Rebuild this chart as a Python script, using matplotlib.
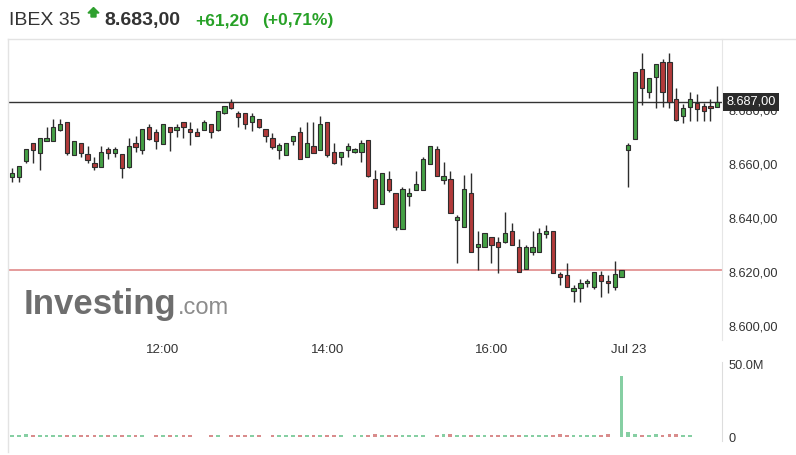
import matplotlib
matplotlib.use("Agg")
import matplotlib.pyplot as plt
from matplotlib.patches import Polygon
from matplotlib.lines import Line2D
import numpy as np

plt.rcParams['font.family'] = ['Liberation Sans', 'DejaVu Sans']

# ---------------- data ----------------
opens = [8655.4, 8655.4, 8661.3, 8667.8, 8664.3, 8668.6, 8668.6, 8672.7, 8675.8, 8663.4,
         8667.8, 8663.7, 8660.4, 8659.1, 8665.6, 8664.3, 8663.7, 8659.1, 8667.8, 8665.3,
         8673.7, 8671.9, 8667.6, 8673.7, 8672.7, 8675.8, 8673.1, 8671.9, 8672.7, 8674.8,
         8672.7, 8678.9, 8683.1, 8679.1, 8678.9, 8675.6, 8676.7, 8673.0, 8669.6, 8665.3,
         8663.4, 8668.6, 8671.9, 8662.6, 8666.8, 8665.3, 8675.8, 8664.4, 8662.6, 8665.3,
         8664.4, 8664.4, 8669.0, 8654.4, 8645.3, 8654.4, 8649.3, 8636.0, 8648.3, 8650.5,
         8650.5, 8660.1, 8665.6, 8654.2, 8654.4, 8639.4, 8636.9, 8649.4, 8629.3, 8629.3,
         8633.0, 8631.3, 8631.3, 8635.3, 8629.3, 8621.1, 8627.6, 8627.6, 8634.2, 8635.4,
         8619.4, 8619.0, 8613.2, 8614.1, 8615.9, 8614.7, 8619.0, 8616.9, 8614.7, 8618.1,
         8665.3, 8669.4, 8695.2, 8686.7, 8692.4, 8697.8, 8697.8, 8684.2, 8678.0, 8681.3,
         8682.6, 8681.7, 8681.7, 8681.3]
highs = [8658.5, 8659.5, 8665.6, 8667.8, 8669.6, 8673.7, 8676.7, 8676.7, 8675.8, 8668.7,
         8667.8, 8666.8, 8662.8, 8666.8, 8666.3, 8666.5, 8663.7, 8669.6, 8670.6, 8673.0,
         8674.9, 8673.1, 8674.8, 8673.7, 8674.9, 8675.8, 8675.8, 8673.4, 8676.4, 8674.8,
         8679.9, 8681.7, 8684.1, 8679.9, 8678.9, 8679.1, 8676.7, 8673.0, 8671.7, 8668.0,
         8667.8, 8670.5, 8673.7, 8675.8, 8675.8, 8678.0, 8675.8, 8668.0, 8664.4, 8668.0,
         8666.0, 8669.0, 8669.0, 8657.9, 8656.7, 8657.6, 8649.3, 8651.7, 8651.2, 8657.6,
         8662.8, 8666.8, 8666.8, 8660.9, 8657.6, 8641.4, 8655.9, 8656.8, 8635.4, 8634.4,
         8633.0, 8633.2, 8642.4, 8638.4, 8632.2, 8630.1, 8635.4, 8636.3, 8637.5, 8635.4,
         8620.2, 8623.6, 8615.3, 8617.4, 8617.4, 8620.0, 8620.6, 8619.0, 8624.3, 8620.9,
         8667.8, 8694.2, 8701.4, 8692.1, 8697.0, 8699.0, 8701.4, 8688.1, 8682.2, 8686.9,
         8685.9, 8682.6, 8684.2, 8689.1]
lows = [8653.6, 8653.6, 8660.6, 8660.6, 8657.9, 8668.6, 8668.6, 8672.4, 8663.4, 8663.4,
        8662.8, 8660.6, 8657.9, 8659.1, 8662.0, 8662.8, 8654.8, 8658.7, 8664.7, 8663.8,
        8669.0, 8665.7, 8667.6, 8664.9, 8670.0, 8669.9, 8667.1, 8670.4, 8672.7, 8669.9,
        8672.4, 8678.6, 8680.4, 8673.9, 8673.0, 8672.3, 8673.3, 8668.1, 8665.7, 8662.0,
        8663.4, 8667.1, 8661.9, 8662.6, 8664.1, 8665.3, 8662.6, 8660.1, 8659.7, 8662.8,
        8664.1, 8660.7, 8655.4, 8643.9, 8645.3, 8649.6, 8635.7, 8636.0, 8644.4, 8650.5,
        8650.5, 8660.1, 8655.7, 8652.7, 8641.9, 8623.6, 8636.9, 8627.6, 8620.7, 8629.3,
        8623.6, 8619.6, 8630.7, 8630.1, 8620.2, 8621.1, 8626.4, 8627.6, 8632.6, 8619.9,
        8615.3, 8614.7, 8609.1, 8609.1, 8614.7, 8613.7, 8611.0, 8612.2, 8613.4, 8618.1,
        8651.7, 8669.4, 8682.0, 8684.4, 8681.0, 8681.3, 8681.0, 8676.0, 8675.2, 8676.0,
        8676.0, 8676.0, 8676.0, 8681.3]
closes = [8656.7, 8659.5, 8665.6, 8665.3, 8669.6, 8669.6, 8673.7, 8674.8, 8664.1, 8668.7,
          8664.3, 8661.6, 8659.1, 8664.6, 8664.3, 8665.6, 8658.5, 8666.8, 8666.5, 8673.0,
          8669.3, 8668.6, 8674.8, 8671.9, 8673.9, 8673.7, 8671.9, 8670.4, 8675.8, 8671.9,
          8679.9, 8681.7, 8680.7, 8677.6, 8674.8, 8678.0, 8673.7, 8670.4, 8666.5, 8667.1,
          8667.8, 8670.5, 8661.9, 8667.8, 8664.3, 8674.8, 8663.4, 8660.4, 8664.4, 8666.8,
          8665.7, 8667.8, 8655.7, 8643.9, 8656.7, 8650.5, 8636.9, 8650.7, 8649.3, 8652.6,
          8662.0, 8666.8, 8655.7, 8655.7, 8641.9, 8640.6, 8650.7, 8627.6, 8630.4, 8634.4,
          8630.1, 8629.3, 8634.4, 8630.1, 8620.2, 8629.3, 8629.3, 8634.4, 8635.4, 8619.9,
          8618.1, 8614.7, 8614.1, 8615.9, 8616.9, 8620.0, 8616.9, 8615.9, 8619.3, 8620.9,
          8667.1, 8694.2, 8688.1, 8692.1, 8697.0, 8686.7, 8683.0, 8676.4, 8681.0, 8684.2,
          8680.5, 8679.7, 8680.7, 8683.0]
# volume in millions (0 = no bar shown)
volumes = [1.3, 1.3, 2.2, 1.3, 1.3, 1.3, 1.3, 1.3, 1.3, 1.3,
           1.3, 1.3, 1.3, 1.3, 1.3, 1.3, 1.3, 1.3, 1.3, 1.3,
           0.0, 1.3, 1.3, 1.3, 1.3, 1.3, 1.3, 0.0, 0.0, 1.3,
           1.3, 0.0, 1.3, 1.3, 1.3, 1.3, 1.3, 0.0, 1.3, 1.3,
           1.3, 1.3, 1.3, 1.3, 1.3, 1.3, 1.3, 1.3, 1.3, 0.0,
           1.3, 1.3, 1.3, 2.2, 1.3, 1.3, 1.3, 1.3, 1.3, 1.3,
           1.3, 0.0, 1.3, 2.0, 2.0, 1.3, 1.3, 1.3, 1.3, 1.3,
           1.3, 1.3, 1.3, 1.3, 1.3, 1.3, 1.3, 1.3, 1.3, 1.3,
           2.2, 1.3, 1.3, 1.3, 1.3, 1.3, 1.3, 2.2, 0.0, 42.5,
           3.2, 2.0, 1.3, 1.3, 1.8, 1.3, 1.8, 1.8, 1.3, 1.3,
           0.0, 0.0, 0.0, 0.0]
xtick_pos = [22, 46, 70, 90]
xtick_labels = ['12:00', '14:00', '16:00', 'Jul 23']
price_ticks = [8600, 8620, 8640, 8660, 8680]
vol_ticks = [0, 50]
vol_tick_labels = ['0', '50.0M']
last_price = 8683.0
prev_close = 8620.9
last_label = '8.687,00'
header_name = 'IBEX 35'
header_price = '8.683,00'
header_change = '+61,20'
header_pct = '(+0,71%)'

# ---------------- figure ----------------
W, H = 796, 455
fig = plt.figure(figsize=(W / 100, H / 100), dpi=100)


def fx(x):
    return x / W


def fy(y):
    return 1 - y / H


L, R = 8, 722
ax = fig.add_axes([fx(L), fy(340), fx(R - L), fy(39) - fy(340)])
axv = fig.add_axes([fx(L), fy(441), fx(R - L), fy(362) - fy(441)])

GREEN = '#45a045'
RED = '#b23a3a'
EDGE = '#2d2d2d'

x = np.arange(len(opens))
o = np.array(opens)
c = np.array(closes)
h = np.array(highs)
l = np.array(lows)
up = c >= o
cols = [GREEN if u else RED for u in up]

ax.vlines(x, l, h, color=EDGE, lw=1.0, zorder=2)
ax.bar(x, np.abs(c - o), bottom=np.minimum(o, c), width=0.62, color=cols,
       edgecolor=EDGE, linewidth=0.8, zorder=3)

ax.axhline(last_price, color='#333333', lw=1.0, zorder=1)
ax.axhline(prev_close, color='#e08a8a', lw=1.2, zorder=1)

xl = ((L - 12.3) / 6.845, (R - 12.3) / 6.845)
ax.set_xlim(*xl)
ax.set_ylim(8660 - (340 - 164.3) / 2.7, 8660 + (164.3 - 39) / 2.7)

ax.yaxis.tick_right()
ax.set_yticks(price_ticks)
ax.set_yticklabels([f"{v:,.2f}".replace(',', 'X').replace('.', ',').replace('X', '.')
                    for v in price_ticks])
ax.tick_params(axis='y', length=0, pad=5, labelsize=9.2, labelcolor='#333333')
ax.set_xticks(xtick_pos)
ax.set_xticklabels(xtick_labels)
ax.tick_params(axis='x', length=0, pad=3, labelsize=9.5, labelcolor='#333333')
for s in ['top', 'bottom', 'left']:
    ax.spines[s].set_visible(False)
ax.spines['right'].set_color('#e6e6e6')

# volume
vcols = ['#86cfa3' if u else '#d98c8c' for u in up]
axv.bar(x, volumes, width=0.55, color=vcols, zorder=2)
axv.set_xlim(*xl)
axv.set_ylim(-(441 - 437) / 72.3 * 50, (437 - 362) / 72.3 * 50)
axv.yaxis.tick_right()
axv.set_yticks(vol_ticks)
axv.set_yticklabels(vol_tick_labels)
axv.tick_params(axis='y', length=0, pad=5, labelsize=9.2, labelcolor='#333333')
axv.set_xticks([])
for s in ['top', 'bottom', 'left']:
    axv.spines[s].set_visible(False)
axv.spines['right'].set_color('#dddddd')

# frame lines
fig.add_artist(Line2D([fx(8), fx(796)], [fy(39), fy(39)], color='#e3e3e3', lw=1))
fig.add_artist(Line2D([fx(8), fx(8)], [fy(39), fy(452)], color='#e3e3e3', lw=1))

# last price label box
fig.text(fx(751), fy(102), last_label, ha='center', va='center', color='white',
         fontsize=9.2, zorder=10,
         bbox=dict(boxstyle='square,pad=0.25', fc='#2b2b2b', ec='none'))

# watermark
fig.text(fx(24), fy(314), 'Investing', fontsize=25, fontweight='bold', color='#6e6e6e',
         ha='left', va='baseline', zorder=0)
fig.text(fx(178), fy(314), '.com', fontsize=17, color='#8c8c8c',
         ha='left', va='baseline', zorder=0)

# header
fig.text(fx(9), fy(25), header_name, fontsize=14, color='#333333', ha='left', va='baseline')
arrow = Polygon([(fx(93.5), fy(7.5)), (fx(99), fy(13)), (fx(96), fy(13)), (fx(96), fy(17)),
                 (fx(91), fy(17)), (fx(91), fy(13)), (fx(88), fy(13))],
                closed=True, transform=fig.transFigure, color='#2fa02f')
fig.add_artist(arrow)
fig.text(fx(104), fy(25), header_price, fontsize=14, fontweight='bold', color='#333333',
         ha='left', va='baseline')
fig.text(fx(195), fy(25), header_change, fontsize=12.5, fontweight='bold', color='#27a127',
         ha='left', va='baseline')
fig.text(fx(262), fy(25), header_pct, fontsize=12.5, fontweight='bold', color='#27a127',
         ha='left', va='baseline')

fig.savefig('out.png', dpi=100)
